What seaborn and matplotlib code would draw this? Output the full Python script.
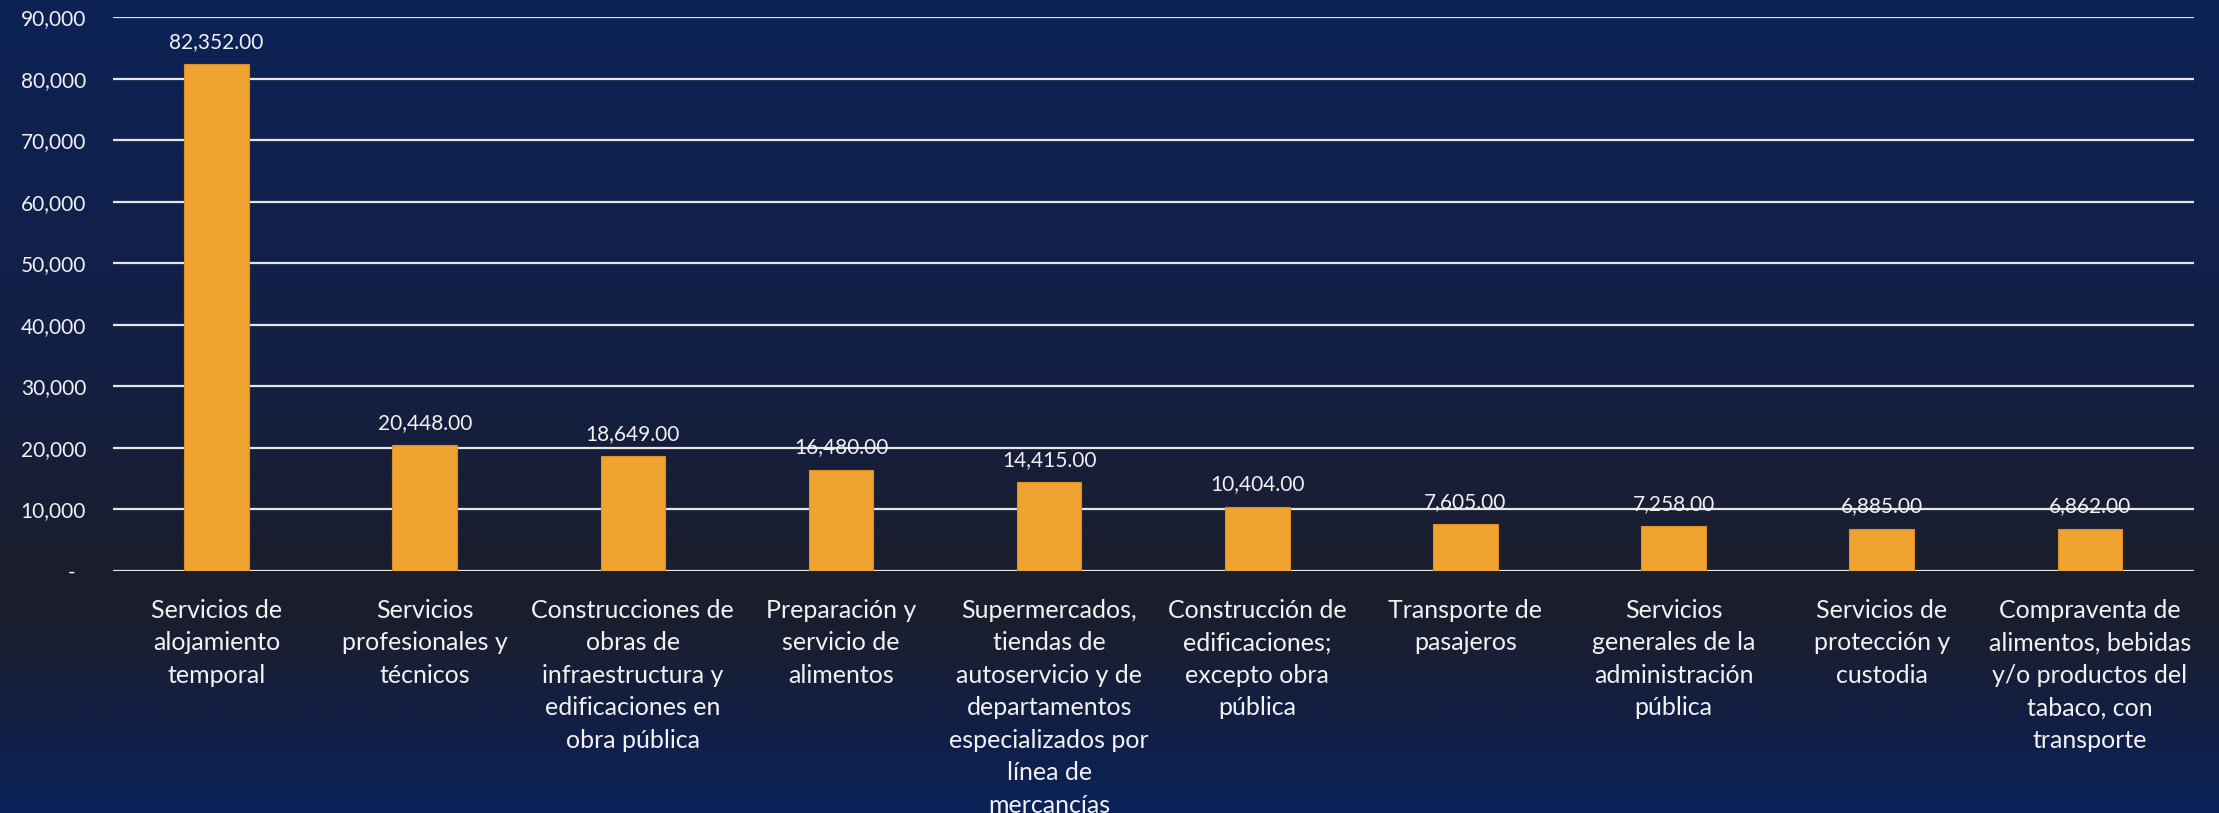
import matplotlib.pyplot as plt
from matplotlib.colors import LinearSegmentedColormap
from matplotlib.ticker import FuncFormatter
import numpy as np
import seaborn as sns


# Top 10 activities
categories = ["Servicios de\nalojamiento\ntemporal",
              "Servicios\nprofesionales y\ntécnicos",
              "Construcciones de\nobras de\ninfraestructura y\nedificaciones en\nobra pública",
              "Preparación y\nservicio de\nalimentos",
              "Supermercados,\ntiendas de\nautoservicio y de\ndepartamentos\nespecializados por\nlínea de\nmercancías",
              "Construcción de\nedificaciones;\nexcepto obra\npública",
              "Transporte de\npasajeros",
              "Servicios\ngenerales de la\nadministración\npública",
              "Servicios de\nprotección y\ncustodia",
              "Compraventa de\nalimentos, bebidas\ny/o productos del\ntabaco, con\ntransporte"]
values = [82352, 20448, 18649, 16480, 14415, 10404, 7605, 7258, 6885, 6862]
y_ticks = [0, 10000, 20000, 30000, 40000, 50000, 60000, 70000, 80000, 90000]

sns.set_style("white")
plt.rcParams['font.family'] = ['Lato', 'DejaVu Sans']

fig = plt.figure(figsize=(22.19, 8.13), dpi=100)

# background gradient: navy top -> dark slate near baseline -> navy bottom
bg = fig.add_axes([0, 0, 1, 1], zorder=-10)
cmap = LinearSegmentedColormap.from_list(
    "bg", [(0.0, "#0c2356"), (0.45, "#131f44"), (0.72, "#1b1e2b"),
           (0.80, "#191f33"), (0.90, "#111f47"), (1.0, "#0b2359")])
grad = np.linspace(0, 1, 512).reshape(-1, 1)
bg.imshow(grad, aspect='auto', cmap=cmap, extent=[0, 1, 0, 1])
bg.axis('off')

ax = fig.add_axes([0.0507, 0.2977, 0.9380, 0.6813])
ax.set_facecolor('none')
sns.barplot(x=categories, y=values, color='#f0a330', saturation=1, width=0.31,
            edgecolor='#d98f25', linewidth=0.8, ax=ax, zorder=3)

ax.set_ylim(0, 90000)
ax.set_yticks(y_ticks)
ax.yaxis.set_major_formatter(FuncFormatter(lambda v, p: "-  " if v == 0 else f"{v:,.0f}"))
ax.yaxis.grid(True, color='#e6e6e6', linewidth=1.6, zorder=0)
ax.set_axisbelow(True)
for s in ax.spines.values():
    s.set_visible(False)

ax.tick_params(axis='y', length=0, pad=19, labelsize=15, labelcolor='#f2f2f2')
ax.tick_params(axis='x', length=0, pad=20, labelcolor='#f2f2f2')
for lbl in ax.get_xticklabels():
    lbl.set_fontsize(18)
    lbl.set_linespacing(1.5)
    lbl.set_verticalalignment('top')
ax.set_xlabel('')
ax.set_ylabel('')

ax.bar_label(ax.containers[0], labels=[f"{v:,.2f}" for v in values],
             padding=9, fontsize=15, color='#f2f2f2')

plt.savefig('out.png', dpi=100)
plt.close()
